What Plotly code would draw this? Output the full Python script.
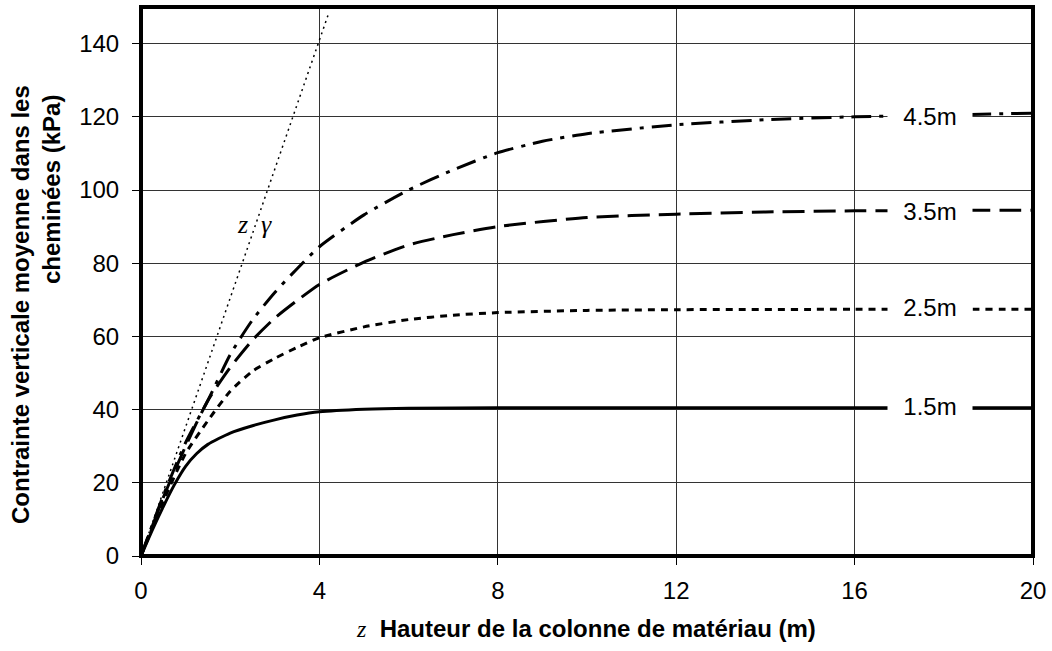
import plotly.graph_objects as go

# ---- data ----
z_15 = [0, 0.25, 0.5, 0.75, 1.0, 1.25, 1.5, 2.0, 2.5, 3.0, 3.5, 4.0, 5.0, 6.0, 8.0, 12.0, 16.0, 20.0]
s_15 = [0, 7, 13.5, 19.5, 24.5, 28, 30.5, 33.6, 35.6, 37.2, 38.5, 39.4, 40.1, 40.4, 40.5, 40.5, 40.5, 40.5]

z_25 = [0, 0.5, 1.0, 1.5, 2.0, 2.5, 3.0, 3.5, 4.0, 5.0, 6.0, 7.0, 8.0, 10.0, 12.0, 16.0, 20.0]
s_25 = [0, 15, 28, 37, 45, 50.5, 54, 57, 59.6, 62.6, 64.6, 65.8, 66.5, 67.1, 67.3, 67.4, 67.4]

z_35 = [0, 0.5, 1.0, 1.5, 2.0, 2.5, 3.0, 3.5, 4.0, 5.0, 6.0, 7.0, 8.0, 10.0, 12.0, 14.0, 16.0, 20.0]
s_35 = [0, 16, 30, 42.5, 51.5, 59, 65, 69.8, 74.2, 80.3, 85, 87.8, 90, 92.5, 93.4, 94, 94.3, 94.5]

z_45 = [0, 0.5, 1.0, 1.5, 2.0, 2.5, 3.0, 3.5, 4.0, 5.0, 6.0, 7.0, 8.0, 9.0, 10.0, 12.0, 14.0, 16.0, 18.0, 20.0]
s_45 = [0, 16.5, 31, 42.5, 55, 64.5, 72, 78.5, 84.5, 93.2, 100, 105.5, 110.2, 113.3, 115.4, 117.8, 119.2, 120, 120.5, 121]

z_gamma = [0, 4.2]
s_gamma = [0, 148]

series_labels = ["1.5m", "2.5m", "3.5m", "4.5m"]
label_levels = [40.8, 67.8, 94.1, 120.0]

x_ticks = [0, 4, 8, 12, 16, 20]
y_ticks = [0, 20, 40, 60, 80, 100, 120, 140]

# ---- styles ----
FONT = "Liberation Sans, Arial, sans-serif"
SERIF = "Liberation Serif, Times New Roman, serif"
styles = {
    "1.5m": dict(dash="solid"),
    "2.5m": dict(dash="7px,6px"),
    "3.5m": dict(dash="22px,9px"),
    "4.5m": dict(dash="20px,8px,4px,8px"),
}

fig = go.Figure()

fig.add_trace(go.Scatter(x=z_gamma, y=s_gamma, mode="lines",
                         line=dict(color="black", width=1.5, dash="2px,4px"),
                         hoverinfo="skip"))
for name, zz, ss in [("1.5m", z_15, s_15), ("2.5m", z_25, s_25),
                     ("3.5m", z_35, s_35), ("4.5m", z_45, s_45)]:
    fig.add_trace(go.Scatter(x=zz, y=ss, mode="lines", name=name,
                             line=dict(color="black", width=3, shape="spline",
                                       smoothing=0.6, dash=styles[name]["dash"])))

# labels with white boxes (covering line ends, like the reference)
for lab, lev in zip(series_labels, label_levels):
    fig.add_annotation(x=17.7, y=lev, xref="x", yref="y", text=lab,
                       showarrow=False, bgcolor="white", width=80, borderpad=2,
                       font=dict(family=FONT, size=24, color="black"))

# z gamma label
fig.add_annotation(x=2.55, y=90.5, xref="x", yref="y",
                   text="<i>z  γ</i>", showarrow=False,
                   font=dict(family=SERIF, size=26, color="black"))

# axis titles as annotations
W, H = 1052, 651
L, R, T, B = 141, 19, 7, 95
pw, ph = W - L - R, H - T - B

def px(xp):
    return (xp - L) / pw

def py(yp):
    return (H - B - yp) / ph

fig.add_annotation(xref="paper", yref="paper", x=px(586), y=py(628),
                   text=f"<span style='font-family:{SERIF}'><i>z</i></span>  "
                        "<b>Hauteur de la colonne de matériau (m)</b>",
                   showarrow=False, xanchor="center", yanchor="middle",
                   font=dict(family=FONT, size=24, color="black"))
fig.add_annotation(xref="paper", yref="paper", x=px(20), y=py(305),
                   text="<b>Contrainte verticale moyenne dans les</b>",
                   textangle=-90, showarrow=False, xanchor="center", yanchor="middle",
                   font=dict(family=FONT, size=24, color="black"))
fig.add_annotation(xref="paper", yref="paper", x=px(51), y=py(190),
                   text="<b>cheminées (kPa)</b>",
                   textangle=-90, showarrow=False, xanchor="center", yanchor="middle",
                   font=dict(family=FONT, size=24, color="black"))

# thick border around plot area (paper refs so it is not clipped)
fig.add_shape(type="rect", xref="paper", yref="paper", x0=0, x1=1, y0=0, y1=1,
              line=dict(color="black", width=4), layer="above")

fig.update_xaxes(range=[0, 20], tickvals=x_ticks, showgrid=True,
                 gridcolor="#333333", gridwidth=1, zeroline=False, showline=False,
                 ticks="outside", ticklen=8, tickcolor="black", tickwidth=1,
                 ticklabelstandoff=5,
                 tickfont=dict(family=FONT, size=24, color="black"))
fig.update_yaxes(range=[0, 150], tickvals=y_ticks, showgrid=True,
                 gridcolor="#333333", gridwidth=1, zeroline=False, showline=False,
                 ticks="outside", ticklen=8, tickcolor="black", tickwidth=1,
                 ticklabelstandoff=8,
                 tickfont=dict(family=FONT, size=24, color="black"))

fig.update_layout(width=W, height=H, showlegend=False,
                  margin=dict(l=L, r=R, t=T, b=B),
                  plot_bgcolor="white", paper_bgcolor="white")

fig.write_html("out.html")
